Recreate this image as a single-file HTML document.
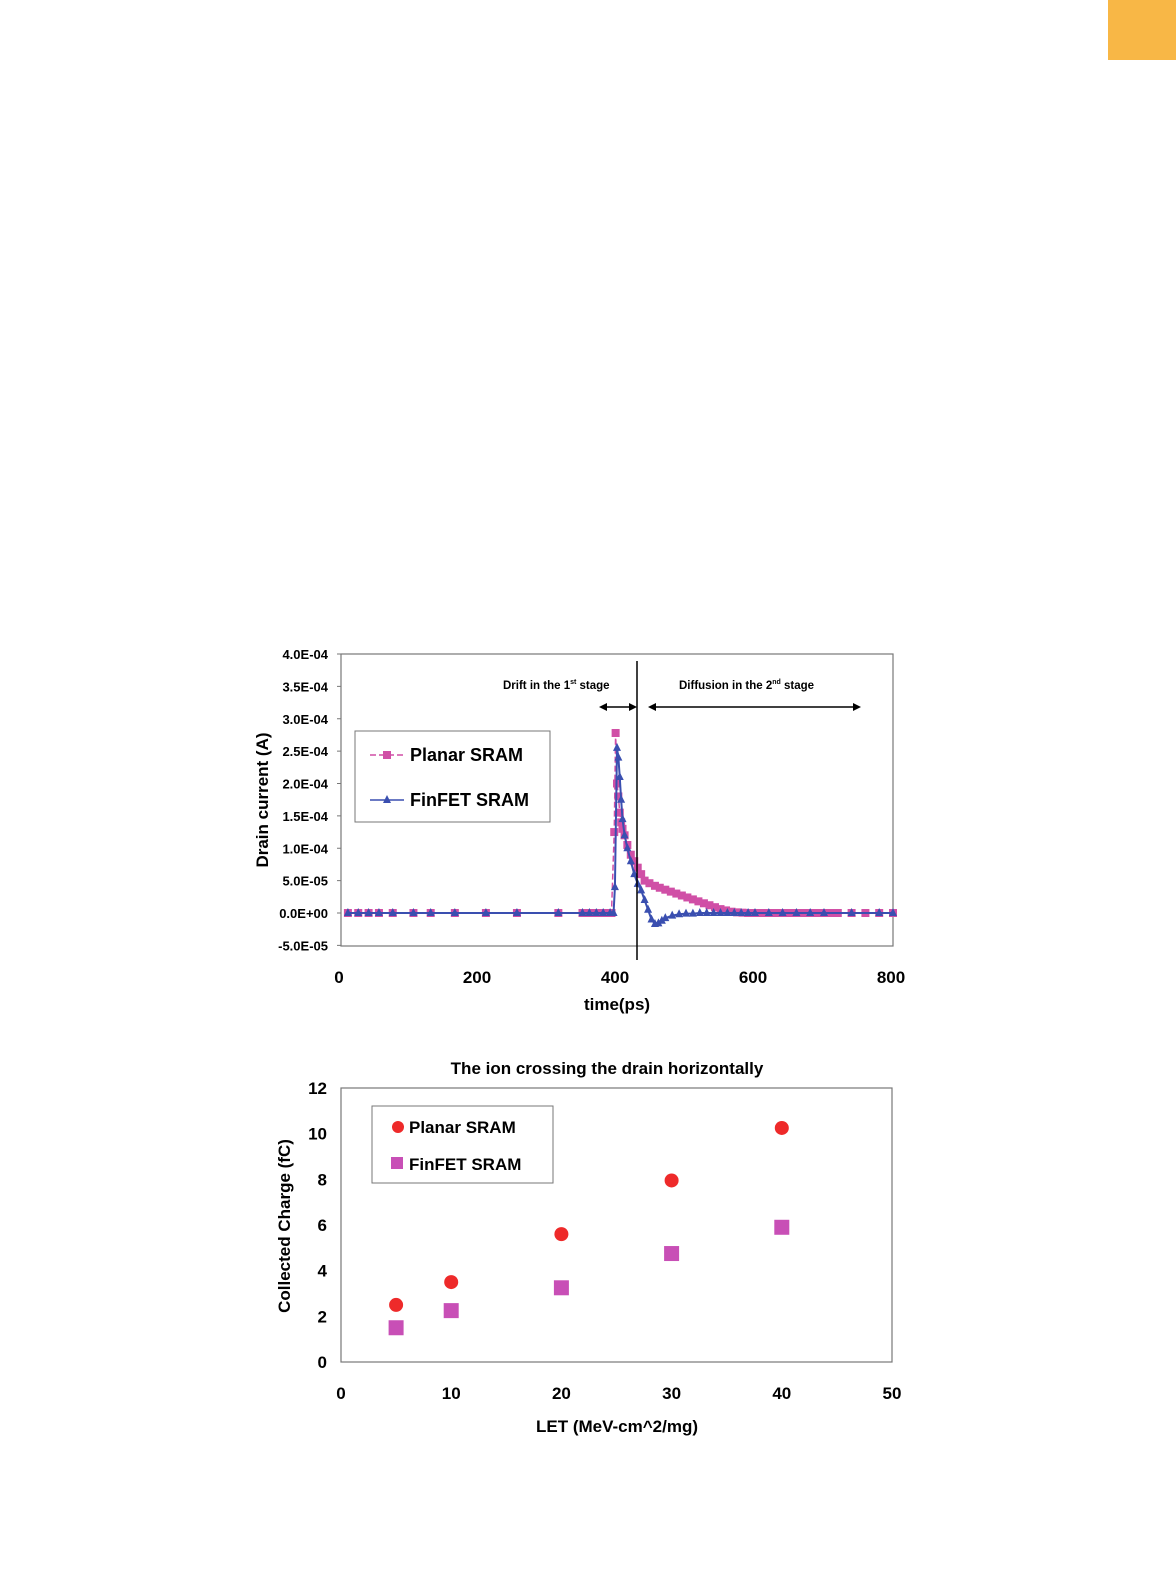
<!DOCTYPE html>
<html><head><meta charset="utf-8"><style>
body{margin:0;background:#fff;}
svg{display:block;font-family:"Liberation Sans",sans-serif;font-weight:bold;}
</style></head><body>
<svg width="1176" height="1575" viewBox="0 0 1176 1575">
<rect x="1108" y="0" width="68" height="60" fill="#f8b746"/>
<g id="top"></g>
<g id="bot"></g>
</svg>
<script>
const NS="http://www.w3.org/2000/svg";
function mk(p,t,a,txt){const e=document.createElementNS(NS,t);for(const k in a)e.setAttribute(k,a[k]);if(txt!==undefined)e.textContent=txt;p.appendChild(e);return e;}
// ---- top chart data ----
const planarT=[10,25,40,55,75,105,130,165,210,255,315,350,356,362,368,374,380,386,392,396,398,400,402,404,406,408,411,415,420,425,430,435,440,447,455,462,470,478,486,494,502,510,518,526,534,542,550,558,566,574,582,590,600,610,620,630,640,650,660,670,680,690,700,710,720,740,760,780,800];
const planarI=[0,0,0,0,0,0,0,0,0,0,0,0,0,0,0,0,0,0,0,1.25,2.78,2.0,1.8,1.55,1.4,1.3,1.2,1.05,0.9,0.8,0.7,0.6,0.5,0.46,0.42,0.39,0.36,0.33,0.3,0.27,0.24,0.21,0.18,0.15,0.12,0.09,0.06,0.04,0.02,0.01,0.005,0,0,0,0,0,0,0,0,0,0,0,0,0,0,0,0,0,0];
const finT=[10,25,40,55,75,105,130,165,210,255,315,350,360,370,380,390,395,397,400,402,404,406,408,411,415,420,425,430,435,440,445,450,455,460,465,470,480,490,500,510,520,530,540,550,560,570,580,590,600,620,640,660,680,700,740,780,800];
const finI=[0,0,0,0,0,0,0,0,0,0,0,0,0,0,0,0,0,0.4,2.55,2.4,2.1,1.75,1.45,1.2,1.0,0.8,0.6,0.45,0.35,0.2,0.05,-0.1,-0.17,-0.16,-0.12,-0.08,-0.04,-0.02,-0.01,-0.01,0,0,0,0,0,0,0,0,0,0,0,0,0,0,0,0,0];
const topYTicks=[4,3.5,3,2.5,2,1.5,1,0.5,0,-0.5];
const topYLabels=["4.0E-04","3.5E-04","3.0E-04","2.5E-04","2.0E-04","1.5E-04","1.0E-04","5.0E-05","0.0E+00","-5.0E-05"];
const topXTicks=[0,200,400,600,800];
// ---- bottom chart data ----
const letX=[5,10,20,30,40];
const planarQ=[2.5,3.5,5.6,7.95,10.25];
const finQ=[1.5,2.25,3.25,4.75,5.9];
const botYTicks=[0,2,4,6,8,10,12];
const botXTicks=[0,10,20,30,40,50];

const tx=v=>341+v*(893-341)/800, ty=v=>913-v*(913-654)/4;
const T=document.getElementById('top');
let e=mk(T,'rect',{x:341,y:654,width:552,height:292,fill:'none',stroke:'#777','stroke-width':1.2});

topYTicks.forEach((v,i)=>{e=mk(T,'text',{x:328,y:ty(v)+5,'text-anchor':'end','font-size':13},topYLabels[i]);mk(T,'line',{x1:337,x2:341,y1:ty(v),y2:ty(v),stroke:'#777'});});
topXTicks.forEach(v=>{e=mk(T,'text',{x:tx(v)-2,y:983,'text-anchor':'middle','font-size':17},String(v));});
e=mk(T,'text',{x:617,y:1010,'text-anchor':'middle','font-size':17},'time(ps)');
e=mk(T,'text',{x:268,y:800,'text-anchor':'middle','font-size':17,transform:'rotate(-90 268 800)'},'Drain current (A)');
let pl=mk(T,'polyline',{points:planarT.map((t,i)=>tx(t)+','+ty(planarI[i])).join(' '),fill:'none',stroke:'#d04fa6','stroke-width':1.5,'stroke-dasharray':'6 3'});

planarT.forEach((t,i)=>{e=mk(T,'rect',{x:tx(t)-4,y:ty(planarI[i])-4,width:8,height:8,fill:'#d04fa6'});});
pl=mk(T,'polyline',{points:finT.map((t,i)=>tx(t)+','+ty(finI[i])).join(' '),fill:'none',stroke:'#3a4fb0','stroke-width':2});

finT.forEach((t,i)=>{const x=tx(t),y=ty(finI[i]);e=mk(T,'polygon',{points:`${x},${y-5} ${x-4},${y+3} ${x+4},${y+3}`,fill:'#3a4fb0'});});
e=mk(T,'line',{x1:637,x2:637,y1:661,y2:960,stroke:'#000','stroke-width':1.5});
mk(T,'line',{x1:603,x2:633,y1:707,y2:707,stroke:'#000','stroke-width':1.5});
mk(T,'polygon',{points:'599,707 607,703 607,711'});mk(T,'polygon',{points:'637,707 629,703 629,711'});
mk(T,'line',{x1:652,x2:856,y1:707,y2:707,stroke:'#000','stroke-width':1.5});
mk(T,'polygon',{points:'648,707 656,703 656,711'});mk(T,'polygon',{points:'861,707 853,703 853,711'});
e=mk(T,'text',{x:503,y:689,'font-size':11.5},'Drift in the 1');
mk(e,'tspan',{'font-size':7,dy:-5},'st');mk(e,'tspan',{dy:5},' stage');
e=mk(T,'text',{x:679,y:689,'font-size':11.5},'Diffusion  in the 2');
mk(e,'tspan',{'font-size':7,dy:-5},'nd');mk(e,'tspan',{dy:5},' stage');
e=mk(T,'rect',{x:355,y:731,width:195,height:91,fill:'#fff',stroke:'#777'});
mk(T,'line',{x1:370,x2:404,y1:755,y2:755,stroke:'#d04fa6','stroke-width':1.5,'stroke-dasharray':'6 3'});mk(T,'rect',{x:383,y:751,width:8,height:8,fill:'#d04fa6'});
e=mk(T,'text',{x:410,y:761,'font-size':18},'Planar SRAM');
mk(T,'line',{x1:370,x2:404,y1:800,y2:800,stroke:'#3a4fb0','stroke-width':1.5});mk(T,'polygon',{points:'387,795 383,803 391,803',fill:'#3a4fb0'});
e=mk(T,'text',{x:410,y:806,'font-size':18},'FinFET SRAM');

const bx=v=>341+v*(892-341)/50, by=v=>1362-v*(1362-1088)/12;
const B=document.getElementById('bot');
e=mk(B,'rect',{x:341,y:1088,width:551,height:274,fill:'none',stroke:'#777','stroke-width':1.2});
e=mk(B,'text',{x:607,y:1074,'text-anchor':'middle','font-size':17},'The ion crossing the drain horizontally');
botYTicks.forEach(v=>{e=mk(B,'text',{x:327,y:by(v)+6,'text-anchor':'end','font-size':17},String(v));});
botXTicks.forEach(v=>{e=mk(B,'text',{x:bx(v),y:1399,'text-anchor':'middle','font-size':17},String(v));});
e=mk(B,'text',{x:617,y:1432,'text-anchor':'middle','font-size':17},'LET (MeV-cm^2/mg)');
e=mk(B,'text',{x:290,y:1226,'text-anchor':'middle','font-size':17,transform:'rotate(-90 290 1226)'},'Collected Charge (fC)');
letX.forEach((v,i)=>{e=mk(B,'circle',{cx:bx(v),cy:by(planarQ[i]),r:7,fill:'#ee2a2a'});
e=mk(B,'rect',{x:bx(v)-7.5,y:by(finQ[i])-7.5,width:15,height:15,fill:'#c84fb6'});});
e=mk(B,'rect',{x:372,y:1106,width:181,height:77,fill:'#fff',stroke:'#777'});
mk(B,'circle',{cx:398,cy:1127,r:6,fill:'#ee2a2a'});
e=mk(B,'text',{x:409,y:1133,'font-size':17},'Planar SRAM');
mk(B,'rect',{x:391,y:1157,width:12,height:12,fill:'#c84fb6'});
e=mk(B,'text',{x:409,y:1170,'font-size':17},'FinFET SRAM');
</script>
</body></html>
